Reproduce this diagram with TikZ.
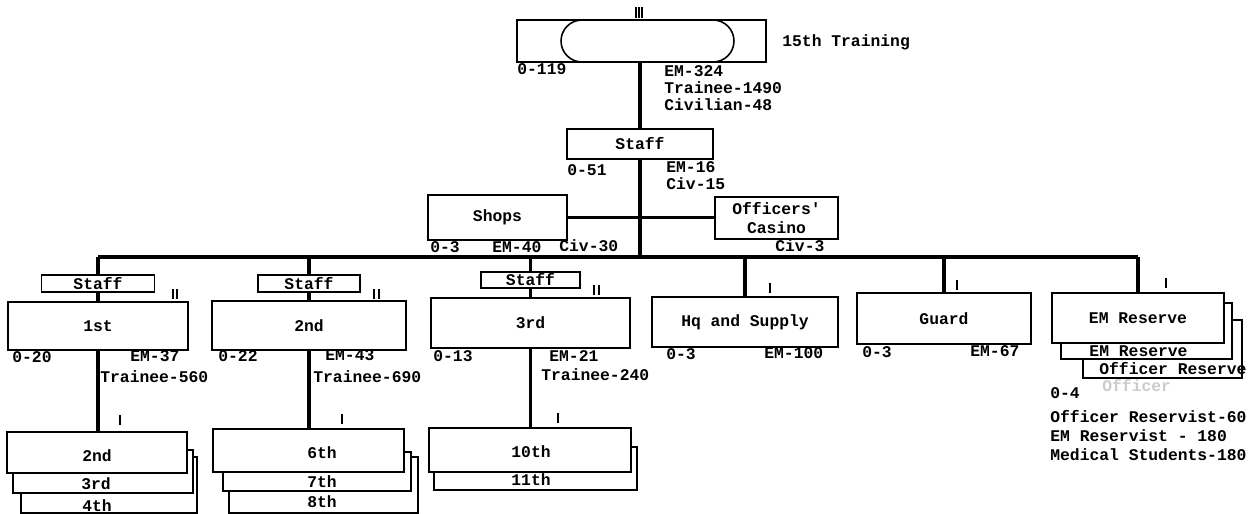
\documentclass[tikz,border=0pt]{standalone}
\usepackage{fontspec}
\setmonofont{Liberation Mono}
\usepackage{tikz}
\usetikzlibrary{positioning}
\newcommand{\chartfont}{\ttfamily\bfseries\fontsize{9.3}{10.8}\selectfont}

\begin{document}
\begin{tikzpicture}[
  x=0.02cm, y=-0.02cm,
  box/.style={draw, line width=0.9pt, fill=white, inner sep=0pt, font=\chartfont, align=center},
  lbl/.style={font=\chartfont, inner sep=0pt, anchor=west, text height=5.3pt, text depth=0pt},
  ctr/.style={lbl, anchor=center},
  link/.style={line width=1.8pt},
  echelon/.style={line width=0.7pt},
]
  \useasboundingbox (0,0) rectangle (1248,514);

  % headquarters
  \node[box, minimum width=4.98cm, minimum height=0.84cm] (top) at (641.5,41) {};
  \node[box, rounded corners=0.42cm, minimum width=3.46cm, minimum height=0.84cm] (topin) at (647.5,41) {};
  \node[box, minimum width=2.92cm, minimum height=0.6cm] (staff) at (640,144) {Staff};
  \node[box, minimum width=2.78cm, minimum height=0.9cm] (shops) at (497.5,217.5) {Shops};
  \node[box, minimum width=2.46cm, minimum height=0.84cm] (casino) at (776.5,218) {Officers'\\Casino};
  \coordinate (bar) at (640,257);

  % battalions
  \node[box, minimum width=3.6cm,  minimum height=0.96cm] (bn1)   at (98,326)    {1st};
  \node[box, minimum width=3.88cm, minimum height=0.98cm] (bn2)   at (309,325.5) {2nd};
  \node[box, minimum width=3.98cm, minimum height=1.0cm]  (bn3)   at (530.5,323) {3rd};
  \node[box, minimum width=3.72cm, minimum height=1.0cm]  (hq)    at (745,322)   {Hq and Supply};
  \node[box, minimum width=3.48cm, minimum height=1.02cm] (guard) at (944,318.5) {Guard};
  \node[box, minimum width=3.18cm, minimum height=1.16cm] (emr3)  at (1162.5,349) {};
  \node[box, minimum width=3.42cm, minimum height=1.12cm] (emr2)  at (1146.5,331) {};
  \node[box, minimum width=3.44cm, minimum height=1.0cm]  (emr)   at (1138,318)  {EM Reserve};
  \node[box, minimum width=2.26cm, minimum height=0.34cm] (stf1)  at (98,283.5)  {Staff};
  \node[box, minimum width=2.04cm, minimum height=0.34cm] (stf2)  at (309,283.5) {Staff};
  \node[box, minimum width=1.98cm, minimum height=0.32cm] (stf3)  at (530.5,280) {Staff};

  % companies
  \node[box, minimum width=3.52cm, minimum height=1.12cm] (c4)  at (109,485)    {};
  \node[box, minimum width=3.6cm,  minimum height=0.86cm] (c3)  at (103,471.5)  {};
  \node[box, minimum width=3.6cm,  minimum height=0.82cm] (c2)  at (97,452.5)   {};
  \node[box, minimum width=3.78cm, minimum height=1.12cm] (c8)  at (323.5,485)  {};
  \node[box, minimum width=3.76cm, minimum height=0.78cm] (c7)  at (317,471.5)  {};
  \node[box, minimum width=3.82cm, minimum height=0.86cm] (c6)  at (308.5,450.5) {};
  \node[box, minimum width=4.06cm, minimum height=0.86cm] (c11) at (535.5,468.5) {};
  \node[box, minimum width=4.04cm, minimum height=0.88cm] (c10) at (530,450)    {};

  % names on stacked boxes
  \node[ctr] (t2)  at (97,457)    {2nd};
  \node[ctr] (t6)  at (322,454)   {6th};
  \node[ctr] (t10) at (531,452.5) {10th};
  \node[ctr] (t3)  at (96,485)    {3rd};
  \node[ctr] (t4)  at (97,507)    {4th};
  \node[ctr] (t7)  at (322,482.5) {7th};
  \node[ctr] (t8)  at (322,503)   {8th};
  \node[ctr] (t11) at (531,481)   {11th};
  \node[ctr] (te2) at (1138.5,352) {EM Reserve};
  \node[lbl] (te3) at (1099,370)  {Officer Reserve};

  % connectors
  \draw[link] (top.south -| staff) -- (staff.north);
  \draw[link] (staff.south) -- (bar);
  \draw[link] (shops.east) -- (shops.east -| casino.west);
  \draw[link] (bar -| bn1) -- (bar -| emr);
  \draw[link] (bar -| stf1) -- (stf1.north);
  \draw[link] (bar -| stf2) -- (stf2.north);
  \draw[link] (bar -| stf3) -- (stf3.north);
  \draw[link] (stf1.south) -- (bn1.north);
  \draw[link] (stf2.south) -- (bn2.north);
  \draw[link] (stf3.south) -- (bn3.north);
  \draw[link] (bar -| hq) -- (hq.north);
  \draw[link] (bar -| guard) -- (guard.north);
  \draw[link] (bar -| emr) -- (emr.north);
  \draw[link] (bn1.south) -- (bn1.south |- c2.north);
  \draw[link] (bn2.south) -- (bn2.south |- c6.north);
  \draw[link] (bn3.south) -- (bn3.south |- c10.north);

  % echelon marks
  \foreach \x in {636,639,642}
    \draw[echelon] (\x,7) -- (\x,18);
  \foreach \x/\y in {173/289,177/289,374/289,379/289,594/285,599/285,
                     770/283,957/280,1166/278,120/415,342/414,558/413}
    \draw[echelon] (\x,\y) -- ++(0,10);

  % strengths
  \node[lbl] (name)  at (782,42)  {15th Training};
  \node[lbl] (o119)  at (517,70)  {0-119};
  \node[lbl] (em324) at (664,72)  {EM-324};
  \node[lbl] (tr1490) at (664,89) {Trainee-1490};
  \node[lbl] (civ48) at (664,106) {Civilian-48};
  \node[lbl] (o51)   at (567,171) {0-51};
  \node[lbl] (em16)  at (666,168) {EM-16};
  \node[lbl] (civ15) at (666,185) {Civ-15};
  \node[lbl] (so3)   at (430,248) {0-3};
  \node[lbl] (sem40) at (492,248) {EM-40};
  \node[lbl] (sciv30) at (559,247) {Civ-30};
  \node[lbl] (cciv3) at (775,247) {Civ-3};
  \node[lbl] (o20)   at (12,358)  {0-20};
  \node[lbl] (em37)  at (130,357) {EM-37};
  \node[lbl] (tr560) at (100,378) {Trainee-560};
  \node[lbl] (o22)   at (218,357) {0-22};
  \node[lbl] (em43)  at (325,356) {EM-43};
  \node[lbl] (tr690) at (313,378) {Trainee-690};
  \node[lbl] (o13)   at (433,357) {0-13};
  \node[lbl] (em21)  at (549,357) {EM-21};
  \node[lbl] (tr240) at (541,376) {Trainee-240};
  \node[lbl] (ho3)   at (666,355) {0-3};
  \node[lbl] (em100) at (764,354) {EM-100};
  \node[lbl] (go3)   at (862,353) {0-3};
  \node[lbl] (em67)  at (970,352) {EM-67};
  \node[lbl, text=gray!40] (ghost) at (1102,387) {Officer};
  \node[lbl] (ro4)   at (1050,394) {0-4};
  \node[lbl] (ror)   at (1050,418) {Officer Reservist-60};
  \node[lbl] (emrr)  at (1050,437) {EM Reservist - 180};
  \node[lbl] (med)   at (1050,456) {Medical Students-180};
\end{tikzpicture}
\end{document}
